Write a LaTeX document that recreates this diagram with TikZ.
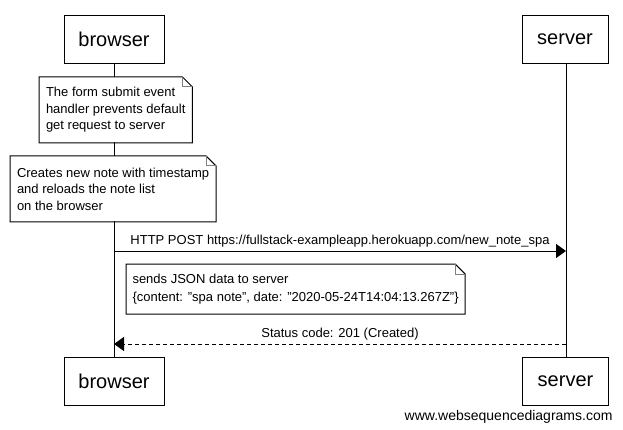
\documentclass[tikz,border=0pt]{standalone}
\usepackage{fontspec}
\setmainfont{Liberation Sans}
\usetikzlibrary{positioning, arrows.meta, calc}

\tikzset{
    actor/.style={draw, fill=white, minimum height=48pt, font=\fontsize{20}{24}\selectfont},
    note/.style={fill=white, anchor=north west, align=left, inner xsep=6.5pt, font=\fontsize{13}{16.5}\selectfont},
    msg/.style={-{Triangle[length=10pt,width=14pt]}},
    reply/.style={msg, dash pattern=on 4pt off 3pt},
    label/.style={font=\fontsize{13}{16}\selectfont, inner sep=0pt},
}
\newcommand{\foldnote}[1]{%
    \draw (#1.north west) -- ($(#1.north east)+(-10,0)$) -- ($(#1.north east)+(0,10)$) -- (#1.south east) -- (#1.south west) -- cycle;
    \draw[gray] ($(#1.north east)+(-10,0)$) -- ($(#1.north east)+(-10,10)$) -- ($(#1.north east)+(0,10)$);
}

\begin{document}
\begin{tikzpicture}[x=1pt, y=-1pt, line width=1pt]
    \fill[white] (0,0) rectangle (623,430);
    \useasboundingbox (0,0) rectangle (623,430);

    % participants
    \node[actor, minimum width=100pt] (btop) at (114,39.5) {browser};
    \node[actor, minimum width=86pt] (stop) at (565,39.5) {server};
    \node[actor, minimum width=100pt] (bbot) at (114,381.5) {browser};
    \node[actor, minimum width=86pt] (sbot) at (565.5,381.5) {server};

    \draw (btop) -- (bbot);
    \draw (stop.south -| 566,0) -- (sbot.north -| 566,0);

    % notes
    \node[note, minimum height=65pt] (n1) at (39,77) {The form submit event\\handler prevents default\\get request to server};
    \foldnote{n1}
    \node[note, minimum height=65pt] (n2) at (10,156) {Creates new note with timestamp\\and reloads the note list\\on the browser};
    \foldnote{n2}

    % messages
    \coordinate (post-b) at (114,251);
    \coordinate (post-s) at (566,251);
    \draw[msg] (post-b) -- node[label, above=3pt] {HTTP POST https://fullstack-exampleapp.herokuapp.com/new\_note\_spa} (post-s);

    \node[note, minimum height=49pt, inner xsep=6pt, font=\fontsize{13}{18}\selectfont] (n3) at (126,264) {sends JSON data to server\\\{content: "spa note", date: "2020-05-24T14:04:13.267Z"\}};
    \foldnote{n3}

    \coordinate (resp-s) at (566,344);
    \coordinate (resp-b) at (114,344);
    \draw[reply] (resp-s) -- node[label, above=3pt] {Status code: 201 (Created)} (resp-b);

    \node[font=\fontsize{14}{16}\selectfont, anchor=east, inner sep=0pt] (wsd) at (613,417) {www.websequencediagrams.com};
\end{tikzpicture}
\end{document}
